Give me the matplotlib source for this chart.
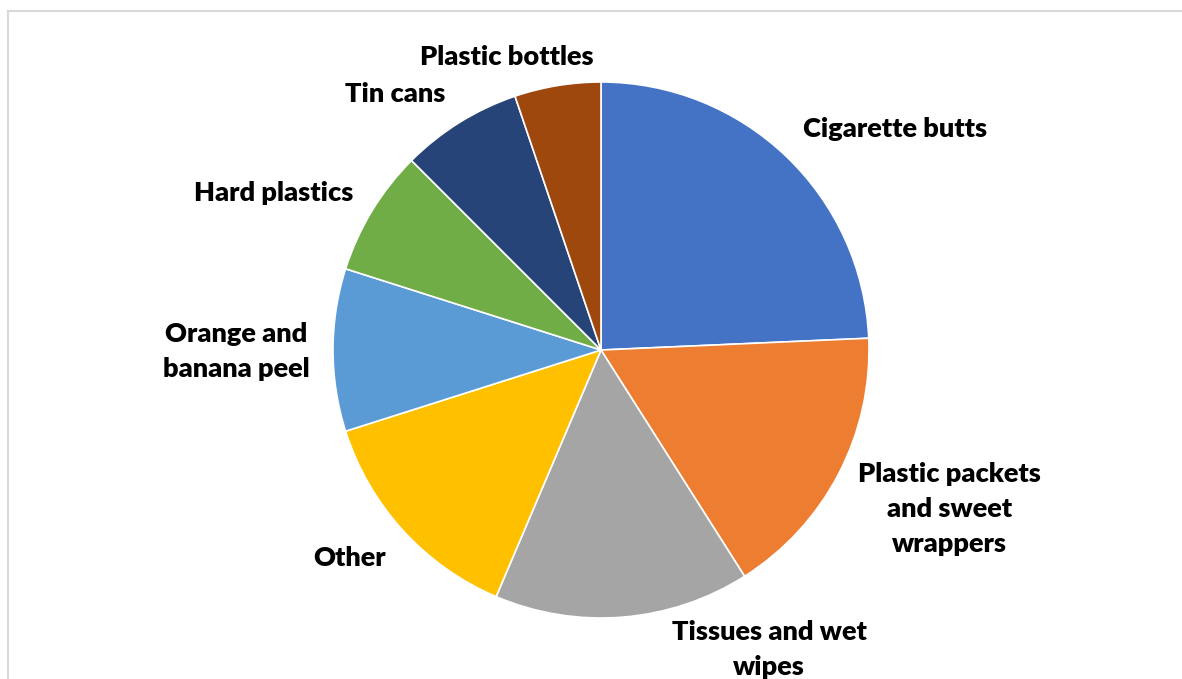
import matplotlib
matplotlib.use('Agg')
import matplotlib.pyplot as plt
from matplotlib.lines import Line2D

# Litter categories (clockwise from 12 o'clock)
labels = ['Cigarette butts', 'Plastic packets\nand sweet\nwrappers', 'Tissues and wet\nwipes',
          'Other', 'Orange and\nbanana peel', 'Hard plastics', 'Tin cans', 'Plastic bottles']
shares = [24.3, 16.7, 15.4, 13.7, 9.8, 7.6, 7.3, 5.2]
colors = ['#4472C4', '#ED7D31', '#A5A5A5', '#FFC000', '#5B9BD5', '#70AD47', '#264478', '#9E480E']

# label positions (in units of pie radius)
label_x = [1.097, 1.302, 0.627, -0.940, -1.362, -1.220, -0.769, -0.351]
label_y = [0.825, -0.593, -1.119, -0.776, -0.004, 0.586, 0.955, 1.093]

fig = plt.figure(figsize=(11.82, 6.79), dpi=100)
W, H = 1182, 679
cx, cy, R = 601, 350, 268
ax = fig.add_axes([(cx - R) / W, (H - cy - R) / H, 2 * R / W, 2 * R / H])

ax.pie(shares, colors=colors, startangle=90, counterclock=False, radius=1,
       wedgeprops=dict(edgecolor='white', linewidth=1.2))
ax.set_xlim(-1, 1)
ax.set_ylim(-1, 1)
ax.set_aspect('equal')
ax.axis('off')

for lab, x, y in zip(labels, label_x, label_y):
    ax.text(x, y, lab, ha='center', va='center', fontsize=19.5, fontweight='heavy',
            family=['Lato', 'DejaVu Sans'], linespacing=1.55, clip_on=False)

# chart area border (top and left edges visible)
fig.add_artist(Line2D([8 / W, 8 / W], [0, 1 - 11 / H], color='#D9D9D9', lw=1.5))
fig.add_artist(Line2D([8 / W, 1], [1 - 11 / H, 1 - 11 / H], color='#D9D9D9', lw=1.5))

fig.savefig('out.png', dpi=100)
